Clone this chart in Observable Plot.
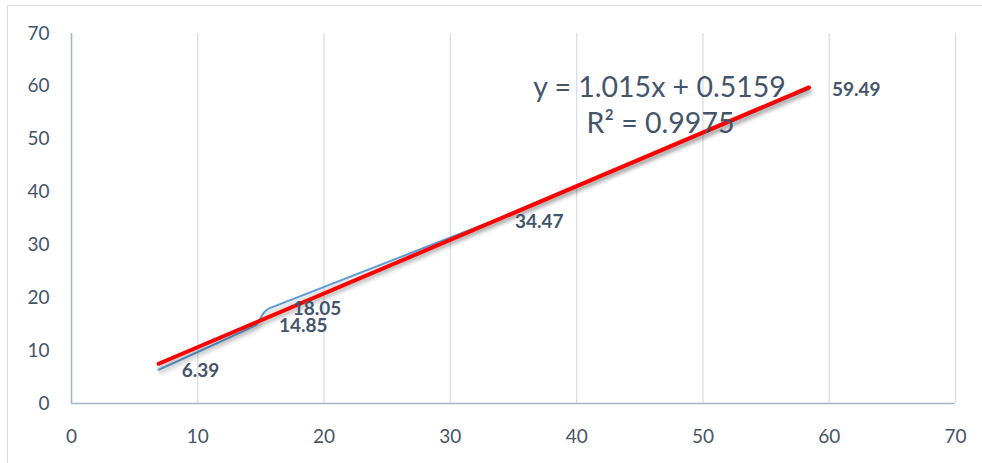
<!DOCTYPE html>
<html>
<head>
<meta charset="utf-8">
<script src="https://cdn.jsdelivr.net/npm/d3@7"></script>
<script src="https://cdn.jsdelivr.net/npm/@observablehq/plot@0.6"></script>
<style>
  html, body { margin: 0; padding: 0; background: #fff; overflow: hidden; }
  #frame { position: absolute; left: 7px; top: 5px; width: 990px; height: 470px; border: 1px solid #d9d9d9; box-sizing: border-box; }
  #chart { position: absolute; left: 0; top: 0; }
  .shadowed path { filter: drop-shadow(1px 3px 2px rgba(0,0,0,0.30)); }
</style>
</head>
<body>
<div id="frame"></div>
<div id="chart"></div>
<script>
// Measured values (x) and their reported results (y)
const xValues = [6.9, 14.6, 15.7, 33.3, 58.4];
const yValues = [6.39, 14.85, 18.05, 34.47, 59.49];
const pointLabels = ["6.39", "14.85", "18.05", "34.47", "59.49"];

// Linear trendline fitted to the series
const slope = 1.015;
const intercept = 0.5159;
const rSquared = 0.9975;

const xTicks = [0, 10, 20, 30, 40, 50, 60, 70];
const yTicks = [0, 10, 20, 30, 40, 50, 60, 70];

const points = xValues.map((x, i) => ({x, y: yValues[i], label: pointLabels[i]}));
const xMin = d3.min(xValues), xMax = d3.max(xValues);
const trend = [xMin, xMax].map(x => ({x, y: slope * x + intercept}));

const textColor = "#475467";
const font = "Lato, 'Open Sans', sans-serif";

const chart = Plot.plot({
  width: 982,
  height: 463,
  marginLeft: 71,
  marginRight: 27,
  marginTop: 33,
  marginBottom: 60,
  style: {fontFamily: font, color: textColor, background: "transparent"},
  x: {domain: [0, 70], ticks: xTicks, label: null},
  y: {domain: [0, 70], ticks: yTicks, label: null},
  marks: [
    Plot.ruleX(xTicks.filter(d => d > 0), {stroke: "#d9dde5", strokeWidth: 1.3}),
    Plot.axisX({ticks: xTicks, tickSize: 0, tickPadding: 26, fontSize: 19, fill: textColor, label: null}),
    Plot.axisY({ticks: yTicks, tickSize: 0, tickPadding: 22, fontSize: 19, fill: textColor, label: null}),
    Plot.ruleX([0], {stroke: "#a9b3c6", strokeWidth: 1.6}),
    Plot.ruleY([0], {stroke: "#a9b3c6", strokeWidth: 1.6}),
    Plot.line(points, {x: "x", y: "y", stroke: "#5b9bd5", strokeWidth: 2, curve: "cardinal", tension: 0.75, className: "shadowed"}),
    Plot.line(trend, {x: "x", y: "y", stroke: "#ff0000", strokeWidth: 4, className: "shadowed"}),
    Plot.text(points, {x: "x", y: "y", text: "label", textAnchor: "start", dx: 23, dy: 1, fontSize: 19, fontWeight: "bold", fill: "#44546a"}),
    Plot.text([`y = ${slope}x + ${intercept}`], {frameAnchor: "top-left", dx: 659 - 71, dy: 76 - 33, textAnchor: "middle", fontSize: 28.5, fill: "#44546a"}),
    Plot.text([`R² = ${rSquared}`], {frameAnchor: "top-left", dx: 660 - 71, dy: 112 - 33, textAnchor: "middle", fontSize: 28.5, fill: "#44546a"})
  ]
});
document.getElementById("chart").appendChild(chart);
</script>
</body>
</html>
